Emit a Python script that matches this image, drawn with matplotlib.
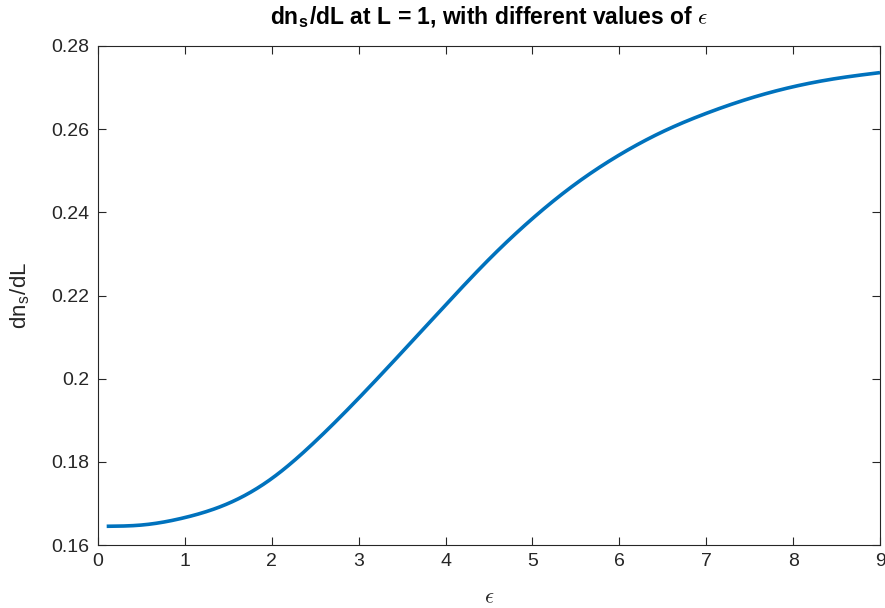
import matplotlib
matplotlib.use("Agg")
import matplotlib.pyplot as plt
from matplotlib.ticker import FuncFormatter
import numpy as np

eps = [0.1, 0.5, 1.0, 1.5, 2.0, 2.5, 3.0, 3.5, 4.0, 4.5, 5.0, 5.5, 6.0, 6.5, 7.0, 7.5, 8.0, 8.5, 9.0]
dns_dL = [0.1645, 0.1648, 0.1666, 0.1700, 0.1760, 0.1849, 0.1953, 0.2064, 0.2177, 0.2287,
          0.2385, 0.2469, 0.2538, 0.2594, 0.2638, 0.2674, 0.2702, 0.2722, 0.2736]
x_ticks = [0, 1, 2, 3, 4, 5, 6, 7, 8, 9]
y_ticks = [0.16, 0.18, 0.20, 0.22, 0.24, 0.26, 0.28]

plt.rcParams['font.family'] = ['Liberation Sans', 'DejaVu Sans']
plt.rcParams['mathtext.fontset'] = 'cm'

fig = plt.figure(figsize=(8.85, 6.08), dpi=100)
ax = fig.add_axes([98/885, 63/608, 782/885, 499/608])

def natural_spline(x, y, xn):
    x = np.asarray(x, float); y = np.asarray(y, float)
    n = len(x); h = np.diff(x)
    A = np.zeros((n, n)); b = np.zeros(n)
    A[0, 0] = 1; A[-1, -1] = 1
    for i in range(1, n - 1):
        A[i, i-1] = h[i-1]; A[i, i] = 2*(h[i-1] + h[i]); A[i, i+1] = h[i]
        b[i] = 6*((y[i+1]-y[i])/h[i] - (y[i]-y[i-1])/h[i-1])
    M = np.linalg.solve(A, b)
    idx = np.clip(np.searchsorted(x, xn) - 1, 0, n - 2)
    xi, xj, hi = x[idx], x[idx+1], h[idx]
    return (M[idx]*(xj-xn)**3/(6*hi) + M[idx+1]*(xn-xi)**3/(6*hi)
            + (y[idx]/hi - M[idx]*hi/6)*(xj-xn) + (y[idx+1]/hi - M[idx+1]*hi/6)*(xn-xi))

xs = np.linspace(eps[0], eps[-1], 500)
ax.plot(xs, natural_spline(eps, dns_dL, xs), color='#0072BD', lw=2.6, solid_capstyle='butt')

ax.set_xlim(0, 9)
ax.set_ylim(0.16, 0.28)
ax.set_xticks(x_ticks)
ax.set_yticks(y_ticks)
ax.yaxis.set_major_formatter(FuncFormatter(lambda v, p: f"{v:g}"))
ax.tick_params(direction='in', length=6, width=0.8, colors='#262626', labelsize=14,
               top=True, right=True, labeltop=False, labelright=False, pad=6)
for s in ax.spines.values():
    s.set_color('#262626'); s.set_linewidth(0.8)

ax.set_xlabel(r'$\epsilon$', fontsize=16, color='#262626', labelpad=12)
ax.set_ylabel(r'dn$_{\mathregular{s}}$/dL', fontsize=16, color='#262626', labelpad=14)
ax.set_title(r'dn$_{\mathregular{s}}$/dL at L = 1, with different values of $\epsilon$',
             fontsize=16.5, fontweight='bold', color='black', pad=16)

fig.savefig('out.png', dpi=100)
